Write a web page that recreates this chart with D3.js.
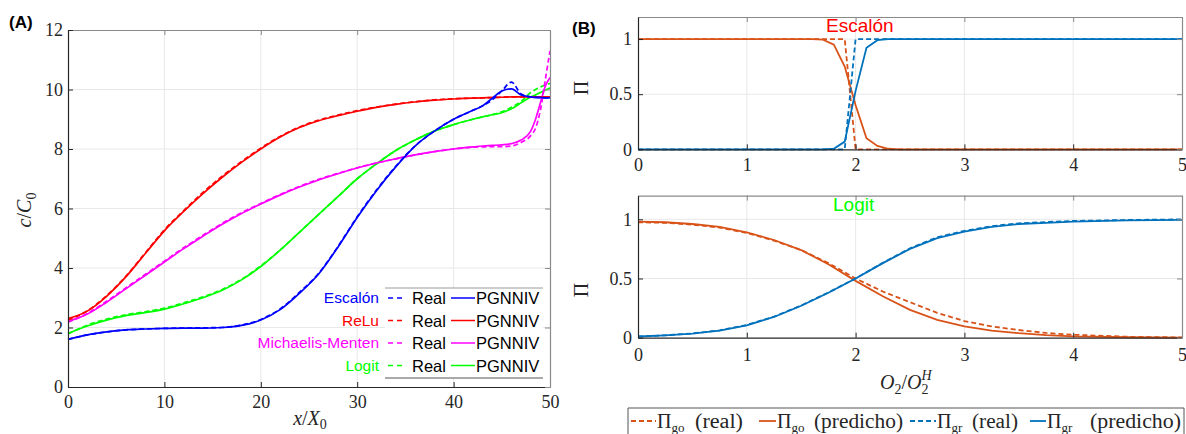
<!DOCTYPE html>
<html><head><meta charset="utf-8">
<script src="https://cdn.jsdelivr.net/npm/d3@7"></script>
<style>body{margin:0;background:#fff}svg{display:block}</style>
</head><body>
<script>
// ---------- DATA (A) ----------
const xA = [0,2,4,6,8,10,12,14,16,18,20,22,24,26,28,30,32,34,36,38,40,42,43,44,45,46,47,48,48.5,49,49.5,50];
const escalonPred = [1.6,1.75,1.85,1.92,1.95,1.97,1.98,1.98,2.0,2.07,2.25,2.6,3.15,3.8,4.7,5.7,6.6,7.4,8.1,8.6,9.0,9.3,9.45,9.7,9.95,10.02,9.82,9.75,9.73,9.73,9.72,9.72];
const escalonReal = [1.6,1.75,1.85,1.92,1.95,1.97,1.98,1.99,2.0,2.08,2.27,2.62,3.18,3.82,4.72,5.72,6.62,7.42,8.1,8.6,9.0,9.3,9.45,9.65,9.95,10.25,9.85,9.75,9.74,9.73,9.72,9.72];
const reluPred = [2.3,2.55,3.05,3.7,4.48,5.25,5.9,6.5,7.05,7.55,8.0,8.4,8.72,8.95,9.12,9.27,9.4,9.5,9.58,9.64,9.68,9.71,9.72,9.73,9.74,9.75,9.75,9.75,9.75,9.75,9.75,9.75];
const reluReal = [2.25,2.56,3.07,3.72,4.5,5.28,5.93,6.54,7.09,7.58,8.03,8.42,8.74,8.97,9.14,9.29,9.41,9.51,9.59,9.65,9.69,9.71,9.72,9.73,9.74,9.75,9.75,9.75,9.75,9.75,9.75,9.75];
const mmPred = [2.2,2.45,2.85,3.3,3.75,4.2,4.65,5.07,5.47,5.83,6.15,6.45,6.72,6.96,7.17,7.36,7.53,7.67,7.8,7.91,8.0,8.07,8.1,8.12,8.14,8.18,8.3,8.6,9.0,9.55,10.1,10.4];
const mmReal = [2.18,2.47,2.88,3.33,3.78,4.23,4.68,5.1,5.5,5.86,6.17,6.47,6.74,6.98,7.18,7.37,7.53,7.67,7.8,7.91,8.0,8.06,8.07,8.08,8.08,8.1,8.22,8.45,8.7,9.3,10.3,11.3];
const logitPred = [1.8,2.05,2.25,2.4,2.5,2.62,2.8,3.0,3.25,3.6,4.05,4.6,5.2,5.8,6.4,7.0,7.5,7.95,8.3,8.6,8.82,9.0,9.08,9.15,9.22,9.35,9.55,9.75,9.82,9.9,9.98,10.05];
const logitReal = [1.78,2.08,2.28,2.43,2.53,2.65,2.83,3.03,3.28,3.62,4.07,4.6,5.2,5.8,6.4,7.0,7.5,7.95,8.3,8.6,8.82,9.0,9.08,9.15,9.25,9.4,9.6,9.9,10.0,10.08,10.15,10.2];
const seriesNamesA = ["Escalón","ReLu","Michaelis-Menten","Logit"];
const seriesColorsA = ["#0000FF","#FF0000","#FF00FF","#00FF00"];
const xTicksA = [0,10,20,30,40,50];
const yTicksA = [0,2,4,6,8,10,12];

// ---------- DATA (B) ----------
const xEsc = [0,1.6,1.7,1.8,1.9,2.0,2.1,2.2,2.3,2.4,5];
const escGoReal = [1,1,1,1,1,0,0,0,0,0,0];
const escGrReal = [0,0,0,0,0,1,1,1,1,1,1];
const escGoPred = [1,1,0.995,0.95,0.75,0.4,0.1,0.03,0.005,0,0];
const escGrPred = [0,0,0,0.005,0.07,0.53,0.92,0.99,1,1,1];
const xLog = [0,0.25,0.5,0.75,1,1.25,1.5,1.75,2,2.25,2.5,2.75,3,3.25,3.5,3.75,4,4.5,5];
const logGoPred = [0.98,0.975,0.96,0.935,0.89,0.825,0.74,0.62,0.48,0.35,0.235,0.15,0.095,0.06,0.038,0.022,0.012,0.004,0.001];
const logGoReal = [0.975,0.97,0.955,0.93,0.885,0.82,0.74,0.63,0.5,0.39,0.3,0.21,0.14,0.095,0.065,0.04,0.025,0.008,0.002];
const logGrPred = [0.01,0.02,0.035,0.06,0.105,0.175,0.27,0.38,0.5,0.63,0.75,0.84,0.895,0.935,0.96,0.97,0.98,0.99,0.995];
const logGrReal = [0.01,0.02,0.036,0.062,0.108,0.178,0.272,0.382,0.5,0.632,0.755,0.848,0.902,0.942,0.966,0.977,0.986,0.994,0.999];
const xTicksB = [0,1,2,3,4,5];
const yTicksB = [0,0.5,1];
const colGo = "#D95319", colGr = "#0072BD";

// ---------- DRAW ----------
const W = 1186, H = 434;
const svg = d3.select("body").append("svg").attr("width", W).attr("height", H);
const SERIF = "'Liberation Serif','DejaVu Serif',serif";
const SANS = "'Liberation Sans',Arial,sans-serif";

function rich(t, parts) {
  let shift = 0;
  parts.forEach(p => {
    const ts = t.append("tspan").text(p.t);
    const target = p.dy || 0;
    ts.attr("dy", target - shift);
    shift = target;
    if (p.dx) ts.attr("dx", p.dx);
    if (p.size) ts.attr("font-size", p.size);
    if (p.it) ts.attr("font-style", "italic");
  });
}

function frame(g, x, y, xt, yt) {
  const [x0, x1] = x.range(), [y0, y1] = y.range();
  g.append("rect").attr("x", x0).attr("y", y1).attr("width", x1 - x0).attr("height", y0 - y1).attr("fill", "#fff");
  g.selectAll(null).data(xt.filter(d => x(d) > x0 + 1 && x(d) < x1 - 1)).join("line")
    .attr("x1", d => x(d)).attr("x2", d => x(d)).attr("y1", y0).attr("y2", y1)
    .attr("stroke", "#e8e8e8").attr("stroke-width", 1);
  g.selectAll(null).data(yt.filter(d => y(d) < y0 - 1 && y(d) > y1 + 1)).join("line")
    .attr("y1", d => y(d)).attr("y2", d => y(d)).attr("x1", x0).attr("x2", x1)
    .attr("stroke", "#e8e8e8").attr("stroke-width", 1);
}

function axes(g, x, y, xt, yt, padX, padY) {
  const [x0, x1] = x.range(), [y0, y1] = y.range();
  const fmt = d3.format("~g");
  const style = s => s.attr("font-family", SERIF).attr("font-size", 18).attr("color", "#262626");
  g.append("g").attr("transform", `translate(0,${y0})`)
    .call(d3.axisBottom(x).tickValues(xt).tickSize(-5).tickSizeOuter(0).tickPadding(padX).tickFormat(fmt)).call(style);
  g.append("g").attr("transform", `translate(0,${y1})`)
    .call(d3.axisTop(x).tickValues(xt).tickSize(-5).tickSizeOuter(0).tickFormat("")).attr("color", "#8a8a8a");
  g.append("g").attr("transform", `translate(${x0},0)`)
    .call(d3.axisLeft(y).tickValues(yt).tickSize(-5).tickSizeOuter(0).tickPadding(padY).tickFormat(fmt)).call(style);
  g.append("g").attr("transform", `translate(${x1},0)`)
    .call(d3.axisRight(y).tickValues(yt).tickSize(-5).tickSizeOuter(0).tickFormat("")).attr("color", "#8a8a8a");
  g.selectAll(".domain").attr("stroke-width", 1.2);
}

// ===== Panel A =====
const gA = svg.append("g");
const xa = d3.scaleLinear().domain([0, 50]).range([68, 550]);
const ya = d3.scaleLinear().domain([0, 12]).range([387, 30]);
frame(gA, xa, ya, xTicksA, yTicksA);
const lineA = vals => d3.line().x((d, i) => xa(xA[i])).y(d => ya(d)).curve(d3.curveMonotoneX)(vals);
const predA = [escalonPred, reluPred, mmPred, logitPred];
const realA = [escalonReal, reluReal, mmReal, logitReal];
const orderA = [3, 2, 1, 0];
orderA.forEach(i => {
  gA.append("path").attr("d", lineA(realA[i])).attr("fill", "none").attr("stroke", seriesColorsA[i])
    .attr("stroke-width", 1.7).attr("stroke-dasharray", "5,3");
  gA.append("path").attr("d", lineA(predA[i])).attr("fill", "none").attr("stroke", seriesColorsA[i])
    .attr("stroke-width", 1.7);
});
axes(gA, xa, ya, xTicksA, yTicksA, 8, 5);

// legend A
const legA = gA.append("g");
legA.append("rect").attr("x", 385).attr("y", 288).attr("width", 158).attr("height", 90).attr("fill", "#fff");
legA.append("line").attr("x1", 385).attr("x2", 543).attr("y1", 288).attr("y2", 288).attr("stroke", "#9a9a9a");
legA.append("line").attr("x1", 385).attr("x2", 543).attr("y1", 378).attr("y2", 378).attr("stroke", "#555");
seriesNamesA.forEach((n, i) => {
  const by = 303 + i * 22.5;
  legA.append("text").attr("x", 379).attr("y", by).attr("text-anchor", "end").attr("font-family", SANS)
    .attr("font-size", 15.5).attr("fill", seriesColorsA[i]).text(n);
  legA.append("line").attr("x1", 388).attr("x2", 406).attr("y1", by - 5).attr("y2", by - 5)
    .attr("stroke", seriesColorsA[i]).attr("stroke-width", 1.5).attr("stroke-dasharray", "5,4");
  legA.append("text").attr("x", 412).attr("y", by + 1).attr("font-family", SANS).attr("font-size", 16.5).attr("fill", "#000").text("Real");
  legA.append("line").attr("x1", 451).attr("x2", 475).attr("y1", by - 5).attr("y2", by - 5)
    .attr("stroke", seriesColorsA[i]).attr("stroke-width", 1.5);
  legA.append("text").attr("x", 476).attr("y", by + 1).attr("font-family", SANS).attr("font-size", 16.5).attr("fill", "#000").text("PGNNIV");
});

// labels A
const ylabA = svg.append("text").attr("transform", "translate(31,210) rotate(-90)").attr("text-anchor", "middle")
  .attr("font-family", SERIF).attr("font-size", 20).attr("fill", "#262626");
rich(ylabA, [{t: "c", it: true}, {t: "/"}, {t: "C", it: true}, {t: "0", dy: 5, size: 14}]);
const xlabA = svg.append("text").attr("x", 310).attr("y", 425).attr("text-anchor", "middle")
  .attr("font-family", SERIF).attr("font-size", 20).attr("fill", "#262626");
rich(xlabA, [{t: "x", it: true}, {t: "/"}, {t: "X", it: true}, {t: "0", dy: 4, size: 14}]);
svg.append("text").attr("x", 9).attr("y", 28).attr("font-family", SANS).attr("font-weight", "bold")
  .attr("font-size", 17).text("(A)");

// ===== Panel B =====
svg.append("text").attr("x", 572).attr("y", 34).attr("font-family", SANS).attr("font-weight", "bold")
  .attr("font-size", 17).text("(B)");
const xb = d3.scaleLinear().domain([0, 5]).range([638, 1182]);
const yTop = d3.scaleLinear().domain([0, 1.2]).range([149.3, 17]);
const yBot = d3.scaleLinear().domain([0, 1.2]).range([337.7, 195.6]);

function panelB(ys, xs, goR, goP, grR, grP, padX, title, tcol, tx, ty, ylabY) {
  const g = svg.append("g");
  frame(g, xb, ys, xTicksB, yTicksB);
  const ln = vals => d3.line().x((d, i) => xb(xs[i])).y(d => ys(d))(vals);
  g.append("path").attr("d", ln(goR)).attr("fill", "none").attr("stroke", colGo).attr("stroke-width", 1.8).attr("stroke-dasharray", "5,3");
  g.append("path").attr("d", ln(goP)).attr("fill", "none").attr("stroke", colGo).attr("stroke-width", 1.8);
  g.append("path").attr("d", ln(grR)).attr("fill", "none").attr("stroke", colGr).attr("stroke-width", 1.8).attr("stroke-dasharray", "5,3");
  g.append("path").attr("d", ln(grP)).attr("fill", "none").attr("stroke", colGr).attr("stroke-width", 1.8);
  axes(g, xb, ys, xTicksB, yTicksB, padX, 6);
  g.append("text").attr("x", tx).attr("y", ty).attr("font-family", SANS).attr("font-size", 19).attr("fill", tcol).text(title);
  g.append("text").attr("transform", `translate(588,${ylabY}) rotate(-90)`).attr("text-anchor", "middle")
    .attr("font-family", SERIF).attr("font-size", 20).attr("fill", "#262626").text("Π");
}
panelB(yTop, xEsc, escGoReal, escGoPred, escGrReal, escGrPred, 9, "Escalón", "#FF0000", 826, 32, 88);
panelB(yBot, xLog, logGoReal, logGoPred, logGrReal, logGrPred, 11, "Logit", "#00FF00", 833, 211, 290);

const xlabB = svg.append("text").attr("x", 880).attr("y", 389)
  .attr("font-family", SERIF).attr("font-size", 20).attr("fill", "#262626");
rich(xlabB, [{t: "O", it: true}, {t: "2", dy: 5, size: 14}, {t: "/"}, {t: "O", it: true}, {t: "2", dy: 5, size: 14},
  {t: "H", dy: -9, dx: -7, size: 14, it: true}]);

// legend B
const legB = svg.append("g");
legB.append("path").attr("d", "M628,434 V408 H1184 V434").attr("fill", "none").attr("stroke", "#555").attr("stroke-width", 1);
const legItems = [
  {c: colGo, dash: true, x1: 631, x2: 656, sub: "go", lbl: "(real)", tx: 657, lx: 695, lw: 48},
  {c: colGo, dash: false, x1: 759, x2: 776, sub: "go", lbl: "(predicho)", tx: 777, lx: 814, lw: 89},
  {c: colGr, dash: true, x1: 910, x2: 936, sub: "gr", lbl: "(real)", tx: 937, lx: 972, lw: 46},
  {c: colGr, dash: false, x1: 1030, x2: 1046, sub: "gr", lbl: "(predicho)", tx: 1047, lx: 1090, lw: 91}
];
legItems.forEach(it => {
  const l = legB.append("line").attr("x1", it.x1).attr("x2", it.x2).attr("y1", 421).attr("y2", 421)
    .attr("stroke", it.c).attr("stroke-width", 1.8);
  if (it.dash) l.attr("stroke-dasharray", "5,3");
  const t = legB.append("text").attr("x", it.tx).attr("y", 428).attr("font-family", SERIF).attr("font-size", 20).attr("fill", "#262626");
  rich(t, [{t: "Π"}, {t: it.sub, dy: 4, size: 13}]);
  legB.append("text").attr("x", it.lx).attr("y", 428).attr("font-family", SERIF).attr("font-size", 20)
    .attr("textLength", it.lw).attr("lengthAdjust", "spacingAndGlyphs").attr("fill", "#262626").text(it.lbl);
});
</script>
</body></html>
